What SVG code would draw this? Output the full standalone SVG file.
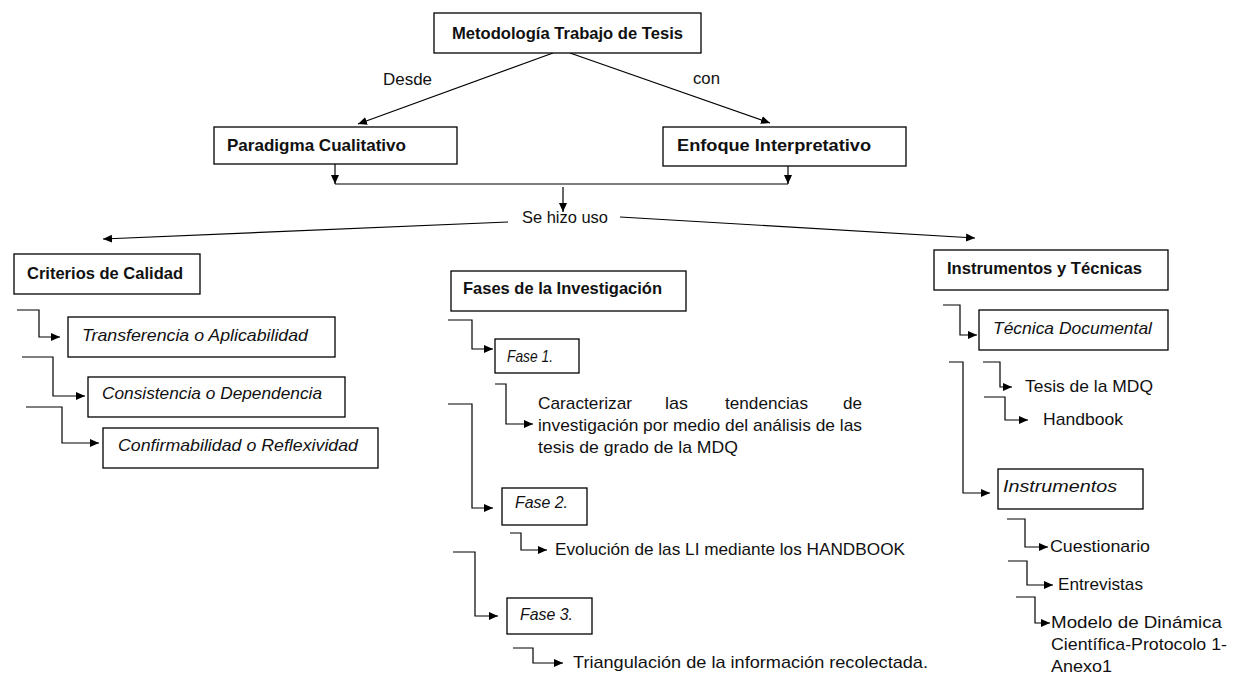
<svg xmlns="http://www.w3.org/2000/svg" width="1238" height="677" viewBox="0 0 1238 677">
<defs>
<marker id="ah" markerWidth="10" markerHeight="9" refX="9" refY="4" orient="auto" markerUnits="userSpaceOnUse">
<path d="M0,0 L9,4 L0,8 z" fill="#000"/>
</marker>
<style>
.box{fill:#fff;stroke:#000;stroke-width:1.3}
.t{font-family:"Liberation Sans",Arial,sans-serif;font-size:17px;fill:#111}
.b{font-weight:bold;font-size:16.5px}
.i{font-style:italic}
.c{fill:none;stroke:#000;stroke-width:1.2;marker-end:url(#ah)}
.l{fill:none;stroke:#000;stroke-width:1.2}
</style>
</defs>
<rect width="1238" height="677" fill="#fff"/>

<g id="connectors">
<line class="c" x1="553" y1="53" x2="358" y2="124"/>
<line class="c" x1="570" y1="53" x2="770" y2="123"/>
<line class="c" x1="335" y1="164" x2="335" y2="184"/>
<line class="c" x1="788" y1="166" x2="788" y2="184"/>
<line class="l" x1="335" y1="184" x2="788" y2="184"/>
<line class="c" x1="563" y1="187" x2="563" y2="212"/>
<line class="c" x1="508" y1="222" x2="103" y2="239"/>
<line class="c" x1="620" y1="217" x2="975" y2="238"/>

<polyline class="c" points="17,310 39,310 39,337 60,337"/>
<polyline class="c" points="22,357 53,357 53,396 85,396"/>
<polyline class="c" points="26,407 62,407 62,443 99,443"/>

<polyline class="c" points="448,320 472,320 472,349 493,349"/>
<polyline class="c" points="495,384 506,384 506,424 533,424"/>
<polyline class="c" points="448,404 472,404 472,508 493,508"/>
<polyline class="c" points="510,533 521,533 521,550 547,550"/>
<polyline class="c" points="453,552 475,552 475,616 498,616"/>
<polyline class="c" points="513,648 533,648 533,663 563,663"/>

<polyline class="c" points="943,305 960,305 960,335 977,335"/>
<polyline class="c" points="983,362 1000,362 1000,387 1012,387"/>
<polyline class="c" points="984,397 1005,397 1005,420 1028,420"/>
<polyline class="c" points="949,362 963,362 963,493 990,493"/>
<polyline class="c" points="1007,519 1025,519 1025,547 1048,547"/>
<polyline class="c" points="1008,561 1027,561 1027,585 1053,585"/>
<polyline class="c" points="1016,597 1035,597 1035,623 1050,623"/>
</g>

<g id="labels">
<text class="t" x="383" y="85" textLength="49" lengthAdjust="spacingAndGlyphs">Desde</text>
<text class="t" x="693" y="84" textLength="27" lengthAdjust="spacingAndGlyphs">con</text>
<text class="t" x="522" y="223" textLength="86" lengthAdjust="spacingAndGlyphs">Se hizo uso</text>
</g>

<g id="n-metodologia">
<rect class="box" x="434" y="13" width="267" height="40"/>
<text class="t b" x="452" y="39" textLength="231" lengthAdjust="spacingAndGlyphs">Metodología Trabajo de Tesis</text>
</g>
<g id="n-paradigma">
<rect class="box" x="214" y="127" width="243" height="37"/>
<text class="t b" x="227" y="151" textLength="179" lengthAdjust="spacingAndGlyphs">Paradigma Cualitativo</text>
</g>
<g id="n-enfoque">
<rect class="box" x="663" y="127" width="243" height="39"/>
<text class="t b" x="677" y="151" textLength="194" lengthAdjust="spacingAndGlyphs">Enfoque Interpretativo</text>
</g>

<g id="n-criterios">
<rect class="box" x="14" y="254" width="186" height="40"/>
<text class="t b" x="27" y="279" textLength="156" lengthAdjust="spacingAndGlyphs">Criterios de Calidad</text>
</g>
<g id="n-transferencia">
<rect class="box" x="68" y="317" width="267" height="40"/>
<text class="t i" x="82" y="341" textLength="226" lengthAdjust="spacingAndGlyphs">Transferencia o Aplicabilidad</text>
</g>
<g id="n-consistencia">
<rect class="box" x="88" y="377" width="257" height="40"/>
<text class="t i" x="102" y="399" textLength="220" lengthAdjust="spacingAndGlyphs">Consistencia o Dependencia</text>
</g>
<g id="n-confirmabilidad">
<rect class="box" x="103" y="428" width="275" height="40"/>
<text class="t i" x="118" y="451" textLength="240" lengthAdjust="spacingAndGlyphs">Confirmabilidad o Reflexividad</text>
</g>

<g id="n-fases">
<rect class="box" x="451" y="271" width="235" height="40"/>
<text class="t b" x="463" y="294" textLength="199" lengthAdjust="spacingAndGlyphs">Fases de la Investigación</text>
</g>
<g id="n-fase1">
<rect class="box" x="495" y="339" width="84" height="34"/>
<text class="t i" x="507" y="362" textLength="46" lengthAdjust="spacingAndGlyphs">Fase 1.</text>
</g>
<g id="n-caracterizar">
<text class="t" x="538" y="409" textLength="94" lengthAdjust="spacingAndGlyphs">Caracterizar</text>
<text class="t" x="665" y="409" textLength="23" lengthAdjust="spacingAndGlyphs">las</text>
<text class="t" x="725" y="409" textLength="83" lengthAdjust="spacingAndGlyphs">tendencias</text>
<text class="t" x="843" y="409" textLength="19" lengthAdjust="spacingAndGlyphs">de</text>
<text class="t" x="538" y="431" textLength="324" lengthAdjust="spacingAndGlyphs">investigación por medio del análisis de las</text>
<text class="t" x="538" y="453" textLength="200" lengthAdjust="spacingAndGlyphs">tesis de grado de la MDQ</text>
</g>
<g id="n-fase2">
<rect class="box" x="502" y="488" width="85" height="37"/>
<text class="t i" x="515" y="508" textLength="53" lengthAdjust="spacingAndGlyphs">Fase 2.</text>
</g>
<g id="n-evolucion">
<text class="t" x="555" y="555" textLength="350" lengthAdjust="spacingAndGlyphs">Evolución de las LI mediante los HANDBOOK</text>
</g>
<g id="n-fase3">
<rect class="box" x="507" y="598" width="85" height="36"/>
<text class="t i" x="520" y="620" textLength="53" lengthAdjust="spacingAndGlyphs">Fase 3.</text>
</g>
<g id="n-triangulacion">
<text class="t" x="573" y="668" textLength="355" lengthAdjust="spacingAndGlyphs">Triangulación de la información recolectada.</text>
</g>

<g id="n-instrumentos-tecnicas">
<rect class="box" x="934" y="250" width="234" height="40"/>
<text class="t b" x="947" y="274" textLength="195" lengthAdjust="spacingAndGlyphs">Instrumentos y Técnicas</text>
</g>
<g id="n-tecnica-documental">
<rect class="box" x="979" y="310" width="189" height="40"/>
<text class="t i" x="993" y="334" textLength="159" lengthAdjust="spacingAndGlyphs">Técnica Documental</text>
</g>
<g id="n-tesis-mdq">
<text class="t" x="1025" y="392" textLength="128" lengthAdjust="spacingAndGlyphs">Tesis de la MDQ</text>
</g>
<g id="n-handbook">
<text class="t" x="1043" y="425" textLength="80" lengthAdjust="spacingAndGlyphs">Handbook</text>
</g>
<g id="n-instrumentos">
<rect class="box" x="998" y="469" width="145" height="40"/>
<text class="t i" x="1003" y="492" textLength="114" lengthAdjust="spacingAndGlyphs">Instrumentos</text>
</g>
<g id="n-cuestionario">
<text class="t" x="1050" y="552" textLength="100" lengthAdjust="spacingAndGlyphs">Cuestionario</text>
</g>
<g id="n-entrevistas">
<text class="t" x="1058" y="590" textLength="85" lengthAdjust="spacingAndGlyphs">Entrevistas</text>
</g>
<g id="n-modelo">
<text class="t" x="1051" y="628" textLength="171" lengthAdjust="spacingAndGlyphs">Modelo de Dinámica</text>
<text class="t" x="1051" y="650" textLength="176" lengthAdjust="spacingAndGlyphs">Científica-Protocolo 1-</text>
<text class="t" x="1051" y="672" textLength="61" lengthAdjust="spacingAndGlyphs">Anexo1</text>
</g>
</svg>
